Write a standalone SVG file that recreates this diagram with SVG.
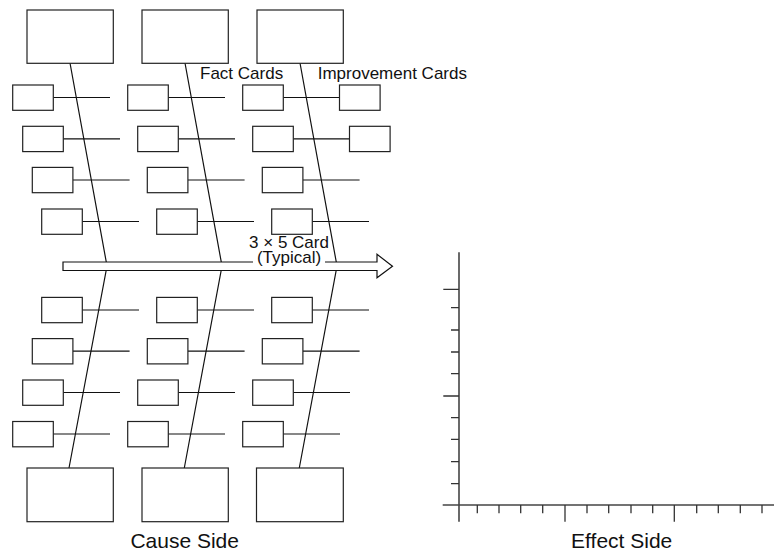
<svg xmlns="http://www.w3.org/2000/svg" width="774" height="550" viewBox="0 0 774 550">
<style>
.card{fill:#fff;stroke:#222;stroke-width:1.2}
.big{fill:#fff;stroke:#222;stroke-width:1.2}
.ln{stroke:#111;stroke-width:1.2;fill:none}
.txt{font-family:"Liberation Sans",Arial,sans-serif;fill:#111}
.axis{stroke:#444;stroke-width:1.6;fill:none}
.tick{stroke:#333;stroke-width:1.3;fill:none}
</style>
<rect width="774" height="550" fill="#fff"/>

<g id="connectors">
  <!-- spines -->
  <polyline class="ln" points="70,63 107,266 69,468"/>
  <polyline class="ln" points="185,63 222,266 184.3,468"/>
  <polyline class="ln" points="300,63 337,266 299.3,468"/>
  <!-- branch lines upper -->
  <line class="ln" x1="53.3" y1="97.5" x2="110" y2="97.5"/>
  <line class="ln" x1="168.3" y1="97.5" x2="225" y2="97.5"/>
  <line class="ln" x1="283.3" y1="97.5" x2="339.5" y2="97.5"/>
  <line class="ln" x1="63.3" y1="138.8" x2="120" y2="138.8"/>
  <line class="ln" x1="178.3" y1="138.8" x2="235" y2="138.8"/>
  <line class="ln" x1="293.3" y1="138.8" x2="349.5" y2="138.8"/>
  <line class="ln" x1="72.9" y1="180" x2="129.6" y2="180"/>
  <line class="ln" x1="187.9" y1="180" x2="244.6" y2="180"/>
  <line class="ln" x1="302.9" y1="180" x2="359.6" y2="180"/>
  <line class="ln" x1="82.3" y1="221.5" x2="139" y2="221.5"/>
  <line class="ln" x1="197.3" y1="221.5" x2="254" y2="221.5"/>
  <line class="ln" x1="312.3" y1="221.5" x2="369" y2="221.5"/>
  <!-- branch lines lower -->
  <line class="ln" x1="82.3" y1="310" x2="139" y2="310"/>
  <line class="ln" x1="197.3" y1="310" x2="254" y2="310"/>
  <line class="ln" x1="312.3" y1="310" x2="369" y2="310"/>
  <line class="ln" x1="72.9" y1="351.2" x2="129.6" y2="351.2"/>
  <line class="ln" x1="187.9" y1="351.2" x2="244.6" y2="351.2"/>
  <line class="ln" x1="302.9" y1="351.2" x2="359.6" y2="351.2"/>
  <line class="ln" x1="63.3" y1="392.5" x2="120" y2="392.5"/>
  <line class="ln" x1="178.3" y1="392.5" x2="235" y2="392.5"/>
  <line class="ln" x1="293.3" y1="392.5" x2="350" y2="392.5"/>
  <line class="ln" x1="53.3" y1="434" x2="110" y2="434"/>
  <line class="ln" x1="168.3" y1="434" x2="225" y2="434"/>
  <line class="ln" x1="283.3" y1="434" x2="340" y2="434"/>
</g>

<g id="main-arrow">
  <path d="M63,262 H377 V254.3 L392.5,266.2 L377,277.8 V270.5 H63 Z" fill="#fff" stroke="#111" stroke-width="1.2"/>
  <rect x="253" y="257" width="72" height="8" fill="#fff"/>
  <text class="txt" x="289" y="247.5" font-size="17" text-anchor="middle">3 × 5 Card</text>
  <text class="txt" x="289" y="263" font-size="17" text-anchor="middle">(Typical)</text>
</g>

<g id="cause-top-1"><rect class="big" x="27" y="10" width="86.3" height="53.3"/></g>
<g id="cause-top-2"><rect class="big" x="142" y="10" width="86.3" height="53.3"/></g>
<g id="cause-top-3"><rect class="big" x="257" y="10" width="86.3" height="53.3"/></g>
<g id="cause-bottom-1"><rect class="big" x="27" y="468" width="86.3" height="53.7"/></g>
<g id="cause-bottom-2"><rect class="big" x="142" y="468" width="86.3" height="53.7"/></g>
<g id="cause-bottom-3"><rect class="big" x="256.5" y="468" width="86.8" height="53.7"/></g>

<g id="card-r1-c1"><rect class="card" x="12.7" y="85" width="40.6" height="25.3"/></g>
<g id="card-r1-c2"><rect class="card" x="127.7" y="85" width="40.6" height="25.3"/></g>
<g id="card-r1-c3"><rect class="card" x="242.7" y="85" width="40.6" height="25.3"/></g>
<g id="improve-r1"><rect class="card" x="339.5" y="85" width="40.6" height="25.3"/></g>
<g id="card-r2-c1"><rect class="card" x="22.7" y="126.3" width="40.6" height="25.3"/></g>
<g id="card-r2-c2"><rect class="card" x="137.7" y="126.3" width="40.6" height="25.3"/></g>
<g id="card-r2-c3"><rect class="card" x="252.7" y="126.3" width="40.6" height="25.3"/></g>
<g id="improve-r2"><rect class="card" x="349.5" y="126.3" width="40.6" height="25.3"/></g>
<g id="card-r3-c1"><rect class="card" x="32.3" y="167.4" width="40.6" height="25.3"/></g>
<g id="card-r3-c2"><rect class="card" x="147.3" y="167.4" width="40.6" height="25.3"/></g>
<g id="card-r3-c3"><rect class="card" x="262.3" y="167.4" width="40.6" height="25.3"/></g>
<g id="card-r4-c1"><rect class="card" x="41.7" y="209" width="40.6" height="25.3"/></g>
<g id="card-r4-c2"><rect class="card" x="156.7" y="209" width="40.6" height="25.3"/></g>
<g id="card-r4-c3"><rect class="card" x="271.7" y="209" width="40.6" height="25.3"/></g>

<g id="card-r5-c1"><rect class="card" x="41.7" y="297.4" width="40.6" height="25.3"/></g>
<g id="card-r5-c2"><rect class="card" x="156.7" y="297.4" width="40.6" height="25.3"/></g>
<g id="card-r5-c3"><rect class="card" x="271.7" y="297.4" width="40.6" height="25.3"/></g>
<g id="card-r6-c1"><rect class="card" x="32.3" y="338.6" width="40.6" height="25.3"/></g>
<g id="card-r6-c2"><rect class="card" x="147.3" y="338.6" width="40.6" height="25.3"/></g>
<g id="card-r6-c3"><rect class="card" x="262.3" y="338.6" width="40.6" height="25.3"/></g>
<g id="card-r7-c1"><rect class="card" x="22.7" y="380" width="40.6" height="25.3"/></g>
<g id="card-r7-c2"><rect class="card" x="137.7" y="380" width="40.6" height="25.3"/></g>
<g id="card-r7-c3"><rect class="card" x="252.7" y="380" width="40.6" height="25.3"/></g>
<g id="card-r8-c1"><rect class="card" x="12.7" y="421.5" width="40.6" height="25.3"/></g>
<g id="card-r8-c2"><rect class="card" x="127.7" y="421.5" width="40.6" height="25.3"/></g>
<g id="card-r8-c3"><rect class="card" x="242.7" y="421.5" width="40.6" height="25.3"/></g>

<g id="labels">
  <text class="txt" x="200" y="78.5" font-size="17">Fact Cards</text>
  <text class="txt" x="317.7" y="78.5" font-size="17">Improvement Cards</text>
  <text class="txt" x="184.7" y="548" font-size="21" text-anchor="middle">Cause Side</text>
  <text class="txt" x="621.7" y="548" font-size="21" text-anchor="middle">Effect Side</text>
</g>

<g id="effect-chart">
  <line class="axis" x1="459" y1="252.3" x2="459" y2="521.7"/>
  <line class="axis" x1="442.7" y1="505" x2="774" y2="505" stroke="#111"/>
  <path class="tick" d="M443.3,289.3 H459 M443.3,396 H459 M451,307.7 H459 M451,330 H459 M451,352 H459 M451,373.7 H459 M451,417.7 H459 M451,439.3 H459 M451,461.7 H459 M451,483.7 H459"/>
  <path class="tick" d="M477.3,505 V513.3 M499,505 V513.3 M520.7,505 V513.3 M542.7,505 V513.3 M565,505 V521.7 M587,505 V513.3 M608.7,505 V513.3 M631,505 V513.3 M652.7,505 V513.3 M674.3,505 V521.7 M696.7,505 V513.3 M718.3,505 V513.3 M740.3,505 V513.3 M762,505 V513.3"/>
</g>
</svg>
